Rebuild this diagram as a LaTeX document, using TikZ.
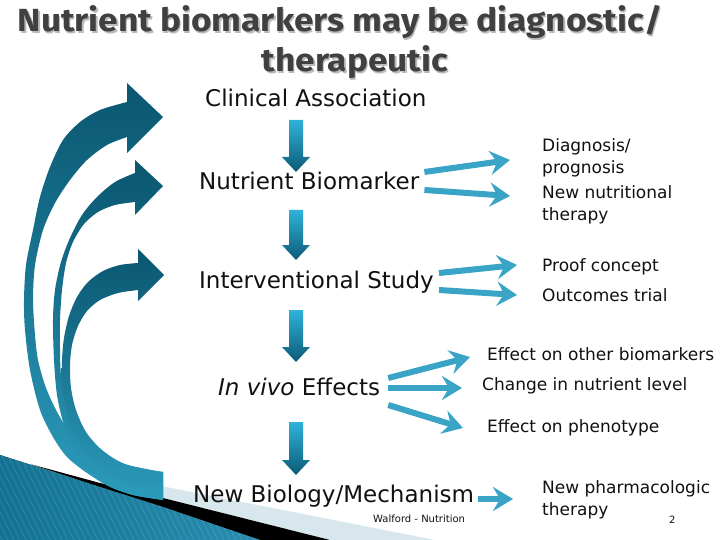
\documentclass[tikz,border=0pt]{standalone}
\usepackage{fontspec}
\setmainfont{DejaVu Sans}
\newfontfamily\titlefont{Fira Sans}[FakeStretch=1.1]
\usetikzlibrary{arrows.meta,calc}
\definecolor{ttl}{HTML}{404040}
\definecolor{shad}{HTML}{BBBBBB}
\definecolor{rarr}{HTML}{3AA4C7}
\definecolor{dtop}{HTML}{2FB2DA}
\definecolor{dbot}{HTML}{0C5B76}
\definecolor{ctop}{HTML}{0A5670}
\definecolor{cbot}{HTML}{2C9BBB}
\definecolor{lband}{HTML}{D8E7EE}
\definecolor{blA}{HTML}{137291}
\definecolor{blB}{HTML}{3FA6CB}
\definecolor{blC}{HTML}{2A8DB0}
\definecolor{txt}{HTML}{111111}
\begin{document}
\begin{tikzpicture}[x=1pt,y=-1pt,
  titletxt/.style={inner sep=0pt, anchor=base, font=\titlefont\bfseries\fontsize{32}{36}\selectfont},
  bigtxt/.style={inner sep=0pt, anchor=base west, text=txt, font=\fontsize{23}{27}\selectfont},
  smalltxt/.style={inner sep=0pt, anchor=base west, text=txt, font=\fontsize{17}{22}\selectfont},
  twoline/.style={inner sep=0pt, anchor=west, align=left, text=txt, font=\fontsize{17}{22}\selectfont},
  foot/.style={inner sep=0pt, anchor=base west, text=txt, font=\fontsize{10}{12}\selectfont},
  rarrow/.style={draw=rarr, line width=6pt, -{Stealth[length=20pt,width=24pt,inset=7pt]}},
  darr/.style={top color=dtop, bottom color=dbot, draw=none},
  carr/.style={top color=ctop, bottom color=cbot, draw=none}]
\useasboundingbox (0,0) rectangle (720,540);
\fill[white] (0,0) rectangle (720,540);

% bottom-left decoration
\fill[lband] (100,474) -- (435,540) -- (330,540) -- (163,498) -- (100,483) -- cycle;
\fill[black] (30,464) -- (100,483) -- (163,498) -- (330,540) -- (260,540) -- (163,507) -- (100,487) -- cycle;
\begin{scope}
\clip (0,455) -- (100,487) -- (163,507) -- (260,540) -- (0,540) -- cycle;
\fill[left color=blA, middle color=blB, right color=blC] (0,450) rectangle (260,540);
\foreach \i in {-120,-114,...,300} \draw[white, opacity=0.12, line width=0.8pt] (\i,440) -- (\i+50,540);
\end{scope}

% curved arrows
\path[carr] (127,102) -- (127,83) -- (163,117) -- (127,153) -- (127,137)
  -- plot[smooth] coordinates {(127,137) (107,145) (87,160) (70,180) (55,203) (43,230) (35,265) (33,300) (35,335) (38,360) (45,385) (55,408) (70,433) (90,453) (115,466) (140,471) (163,472)}
  -- (163,500)
  -- plot[smooth] coordinates {(163,500) (133,495) (110,487) (87,473) (67,457) (53,437) (40,410) (30,370) (25,330) (24,300) (26,265) (33,230) (40,197) (50,167) (63,140) (80,122) (100,110) (127,102)}
  -- cycle;
\path[carr] (135,173) -- (135,160) -- (163,186) -- (135,215) -- (135,202)
  -- plot[smooth] coordinates {(135,202) (115,205) (98,212) (84,224) (73,242) (66,263) (62,290) (60,320) (60,350) (61,375) (66,400) (76,425) (92,446) (113,461) (138,469) (163,472)}
  -- (163,500)
  -- plot[smooth] coordinates {(163,500) (133,495) (110,485) (90,470) (75,450) (64,425) (57,395) (54,360) (53,320) (55,290) (61,262) (70,238) (82,215) (97,197) (115,182) (135,173)}
  -- cycle;
\path[carr] (138,263) -- (138,249) -- (164,275) -- (138,301) -- (138,290)
  -- plot[smooth] coordinates {(138,290) (118,293) (100,300) (87,311) (78,326) (72,345) (70,365) (71,388) (76,410) (86,432) (102,450) (125,464) (163,472)}
  -- (163,500)
  -- plot[smooth] coordinates {(163,500) (133,488) (108,472) (88,455) (74,433) (66,410) (62,385) (62,360) (64,338) (69,316) (77,297) (88,282) (103,271) (120,265) (138,263)}
  -- cycle;

% down arrows
\foreach \t/\b in {120/172,210/260,310/362,422/475}{
  \path[darr] (289,\t) -- (303,\t) -- (303,\b-15) -- (310,\b-15) -- (296,\b) -- (282,\b-15) -- (289,\b-15) -- cycle;
}

% title
\node[titletxt, text=shad] (t1s) at (341.5,33.5) {Nutrient biomarkers may be diagnostic/};
\node[titletxt, text=ttl] (t1) at (340,32) {Nutrient biomarkers may be diagnostic/};
\node[titletxt, text=shad] (t2s) at (356.5,73.5) {therapeutic};
\node[titletxt, text=ttl] (t2) at (355,72) {therapeutic};

% main column
\node[bigtxt] (ca) at (205,107) {Clinical Association};
\node[bigtxt] (nb) at (199,190) {Nutrient Biomarker};
\node[bigtxt] (is) at (199,288) {Interventional Study};
\node[bigtxt] (iv) at (218,395) {\itshape In vivo\upshape{} Effects};
\node[bigtxt] (nbm) at (193,502) {New Biology/Mechanism};
\node[foot] (wf) at (373,522) {Walford - Nutrition};
\node[foot] (pg) at (669,523) {2};

% right column
\node[twoline] (diag) at (542,157.5) {Diagnosis/\\prognosis};
\node[twoline] (newnut) at (542,204.5) {New nutritional\\therapy};
\node[smalltxt] (proof) at (542,271) {Proof concept};
\node[smalltxt] (outc) at (542,301) {Outcomes trial};
\node[smalltxt] (eob) at (487,360) {Effect on other biomarkers};
\node[smalltxt] (cnl) at (482,390) {Change in nutrient level};
\node[smalltxt] (eop) at (487,432) {Effect on phenotype};
\node[twoline] (npt) at (542,499.5) {New pharmacologic\\therapy};

% right arrows
\draw[rarrow] ($(nb.base east)+(5,-18)$) -- ($(diag.west)+(-32,2.5)$);
\draw[rarrow] ($(nb.base east)+(5,0)$) -- ($(newnut.west)+(-32,-8.5)$);
\draw[rarrow] ($(is.base east)+(5,-15)$) -- ($(proof.base west)+(-25,-6)$);
\draw[rarrow] ($(is.base east)+(5,2)$) -- ($(outc.base west)+(-25,-6)$);
\draw[rarrow] ($(iv.base east)+(8,-17)$) -- ($(eob.base west)+(-17,-3)$);
\draw[rarrow] ($(iv.base east)+(8,-7)$) -- ($(cnl.base west)+(-20,-2)$);
\draw[rarrow] ($(iv.base east)+(8,10)$) -- ($(eop.base west)+(-24,-4)$);
\draw[rarrow] ($(nbm.base east)+(4,-3)$) -- ($(npt.west)+(-29,-0.5)$);
\end{tikzpicture}
\end{document}
